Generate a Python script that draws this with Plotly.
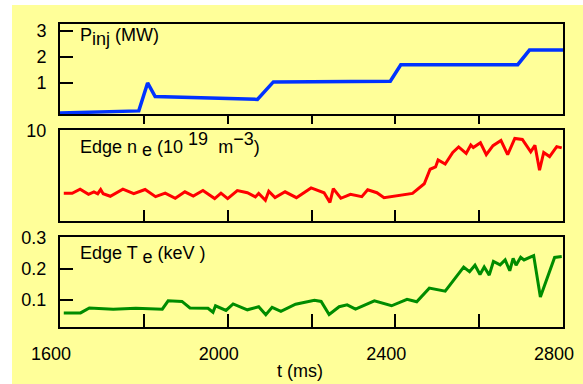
import plotly.graph_objects as go

# ---- data ----
t_pinj = [1600, 1788, 1809, 1827, 2071, 2109, 2388, 2413, 2692, 2720, 2800]
p_inj = [-0.15, -0.07, 1.0, 0.48, 0.37, 1.04, 1.07, 1.7, 1.7, 2.26, 2.26]

t_ne = [1609, 1629, 1648, 1668, 1681, 1690, 1697, 1703, 1720, 1750, 1776, 1803,
        1828, 1851, 1875, 1898, 1918, 1941, 1969, 1984, 2000, 2023, 2047, 2066,
        2074, 2090, 2098, 2113, 2137, 2164, 2199, 2230, 2244, 2252, 2270, 2293,
        2320, 2334, 2356, 2373, 2441, 2469, 2483, 2496, 2502, 2519, 2537, 2551,
        2569, 2580, 2586, 2603, 2617, 2633, 2652, 2668, 2685, 2703, 2723, 2733,
        2744, 2754, 2768, 2785, 2797]
ne = [3.09, 3.09, 3.55, 2.98, 3.26, 3.05, 3.51, 3.05, 2.77, 3.55, 3.05, 3.51,
      2.73, 3.12, 2.55, 3.26, 2.80, 3.40, 2.52, 3.12, 2.52, 3.40, 3.16, 2.70,
      3.09, 2.34, 3.33, 2.62, 3.26, 2.62, 3.69, 3.16, 2.09, 3.62, 2.55, 2.98,
      2.73, 3.48, 3.16, 2.62, 3.09, 4.15, 5.74, 5.99, 6.77, 6.31, 7.59, 8.19,
      7.48, 8.40, 8.12, 8.65, 7.34, 8.33, 8.90, 7.34, 9.12, 9.01, 7.66, 8.37,
      5.64, 7.59, 7.13, 8.23, 8.09]

t_te = [1609, 1649, 1670, 1727, 1781, 1844, 1858, 1891, 1910, 1953, 1965, 1971,
        1996, 2013, 2047, 2074, 2091, 2106, 2127, 2162, 2207, 2223, 2242, 2266,
        2285, 2305, 2350, 2391, 2428, 2451, 2481, 2519, 2563, 2577, 2590, 2602,
        2612, 2624, 2634, 2650, 2662, 2673, 2681, 2688, 2699, 2707, 2730, 2746,
        2780, 2797]
te = [0.058, 0.058, 0.074, 0.070, 0.073, 0.070, 0.097, 0.095, 0.074, 0.073, 0.060, 0.081,
      0.066, 0.087, 0.068, 0.078, 0.052, 0.076, 0.063, 0.086, 0.099, 0.095, 0.053, 0.078,
      0.084, 0.070, 0.097, 0.081, 0.102, 0.094, 0.138, 0.128, 0.206, 0.191, 0.212, 0.182,
      0.206, 0.180, 0.224, 0.213, 0.229, 0.194, 0.234, 0.212, 0.2375, 0.229, 0.243, 0.109,
      0.237, 0.240]

x_range = [1600, 2800]
x_tick_marks = [1800, 2000, 2200, 2400, 2600]
x_label_vals = [1600, 2000, 2400, 2800]
x_label_text = ["1600", "2000", "2400", "2800"]
x_minor_marks = [1800, 2200, 2600]

y1_tickvals = [1, 2, 3]
y1_ticktext = ["1", "2", "3"]
y2_tickvals = [10]
y2_ticktext = ["10"]
y3_tickvals = [0.1, 0.2, 0.3]
y3_ticktext = ["0.1", "0.2", "0.3"]

YELLOW = "#FFFF99"
FONT = "Liberation Sans, Arial, sans-serif"

fig = go.Figure()
fig.add_trace(go.Scatter(x=t_pinj, y=p_inj, mode="lines", xaxis="x", yaxis="y",
                         line=dict(color="#0033FF", width=3.5), showlegend=False))
fig.add_trace(go.Scatter(x=t_ne, y=ne, mode="lines", xaxis="x2", yaxis="y2",
                         line=dict(color="#FF0000", width=3), showlegend=False))
fig.add_trace(go.Scatter(x=t_te, y=te, mode="lines", xaxis="x3", yaxis="y3",
                         line=dict(color="#008C00", width=3), showlegend=False))

common_x = dict(range=x_range, showline=True, linecolor="black", linewidth=2, mirror=True,
                showgrid=False, zeroline=False, tickcolor="black", tickwidth=1.5)
common_y = dict(showline=True, linecolor="black", linewidth=2, mirror=True,
                showgrid=False, zeroline=False, tickcolor="black", tickwidth=1.5,
                tickfont=dict(size=18, color="black", family=FONT), ticklabelstandoff=8)

# figure sits 12 px from the left and 5 px from the top of a white page
fig.update_layout(
    width=571, height=379,
    margin=dict(l=44, r=15, t=9, b=57),
    paper_bgcolor=YELLOW, plot_bgcolor=YELLOW,
    font=dict(family=FONT, size=18, color="black"),
    xaxis=dict(common_x, anchor="y", domain=[0, 1], tickvals=x_tick_marks,
               ticks="outside", ticklen=8, showticklabels=False),
    xaxis2=dict(common_x, anchor="y2", domain=[0, 1], tickvals=x_tick_marks,
                ticks="inside", ticklen=11, showticklabels=False),
    xaxis3=dict(common_x, anchor="y3", domain=[0, 1], tickvals=x_label_vals, ticktext=x_label_text,
                ticks="inside", ticklen=13,
                minor=dict(tickvals=x_minor_marks, ticks="inside", ticklen=13,
                           tickcolor="black", tickwidth=1.5),
                tickfont=dict(size=18, color="black", family=FONT),
                ticklabelstandoff=9, ticklabelshift=-9),
    yaxis=dict(common_y, anchor="x", domain=[0.7029, 1.0], range=[-0.19, 3.26],
               tickvals=y1_tickvals, ticktext=y1_ticktext, ticks="inside", ticklen=13),
    yaxis2=dict(common_y, anchor="x2", domain=[0.3482, 0.6486], range=[0, 10],
                tickvals=y2_tickvals, ticktext=y2_ticktext, ticks=""),
    yaxis3=dict(common_y, anchor="x3", domain=[0.0, 0.2971], range=[0.0125, 0.303],
                tickvals=y3_tickvals, ticktext=y3_ticktext, ticks="inside", ticklen=13),
)

ann_font = dict(size=18, color="black", family=FONT)
FS = '<span style="font-size:18px">{}</span>'
fig.add_annotation(text="P<sub>" + FS.format("inj") + "</sub> (MW)", xref="x domain", yref="y domain",
                   x=0.035, y=0.86, xanchor="left", yanchor="middle", showarrow=False, font=ann_font)
fig.add_annotation(text="Edge n <sub>" + FS.format("e") + "</sub> (10 <sup>" + FS.format("19")
                   + "</sup>  m<sup>" + FS.format("\u22123") + "</sup>)",
                   xref="x2 domain", yref="y2 domain",
                   x=0.035, y=0.85, xanchor="left", yanchor="middle", showarrow=False, font=ann_font)
fig.add_annotation(text="Edge T <sub>" + FS.format("e") + "</sub> (keV )", xref="x3 domain", yref="y3 domain",
                   x=0.035, y=0.80, xanchor="left", yanchor="middle", showarrow=False, font=ann_font)
fig.add_annotation(text="t (ms)", xref="paper", yref="paper", x=0.4766, y=-0.1438,
                   xanchor="center", yanchor="middle", showarrow=False, font=ann_font)

fig.write_html("out.html",
               post_script="document.body.style.margin='0';"
                           "document.body.style.padding='5px 0 0 12px';"
                           "document.body.style.background='white';",
               config={"displayModeBar": False})
